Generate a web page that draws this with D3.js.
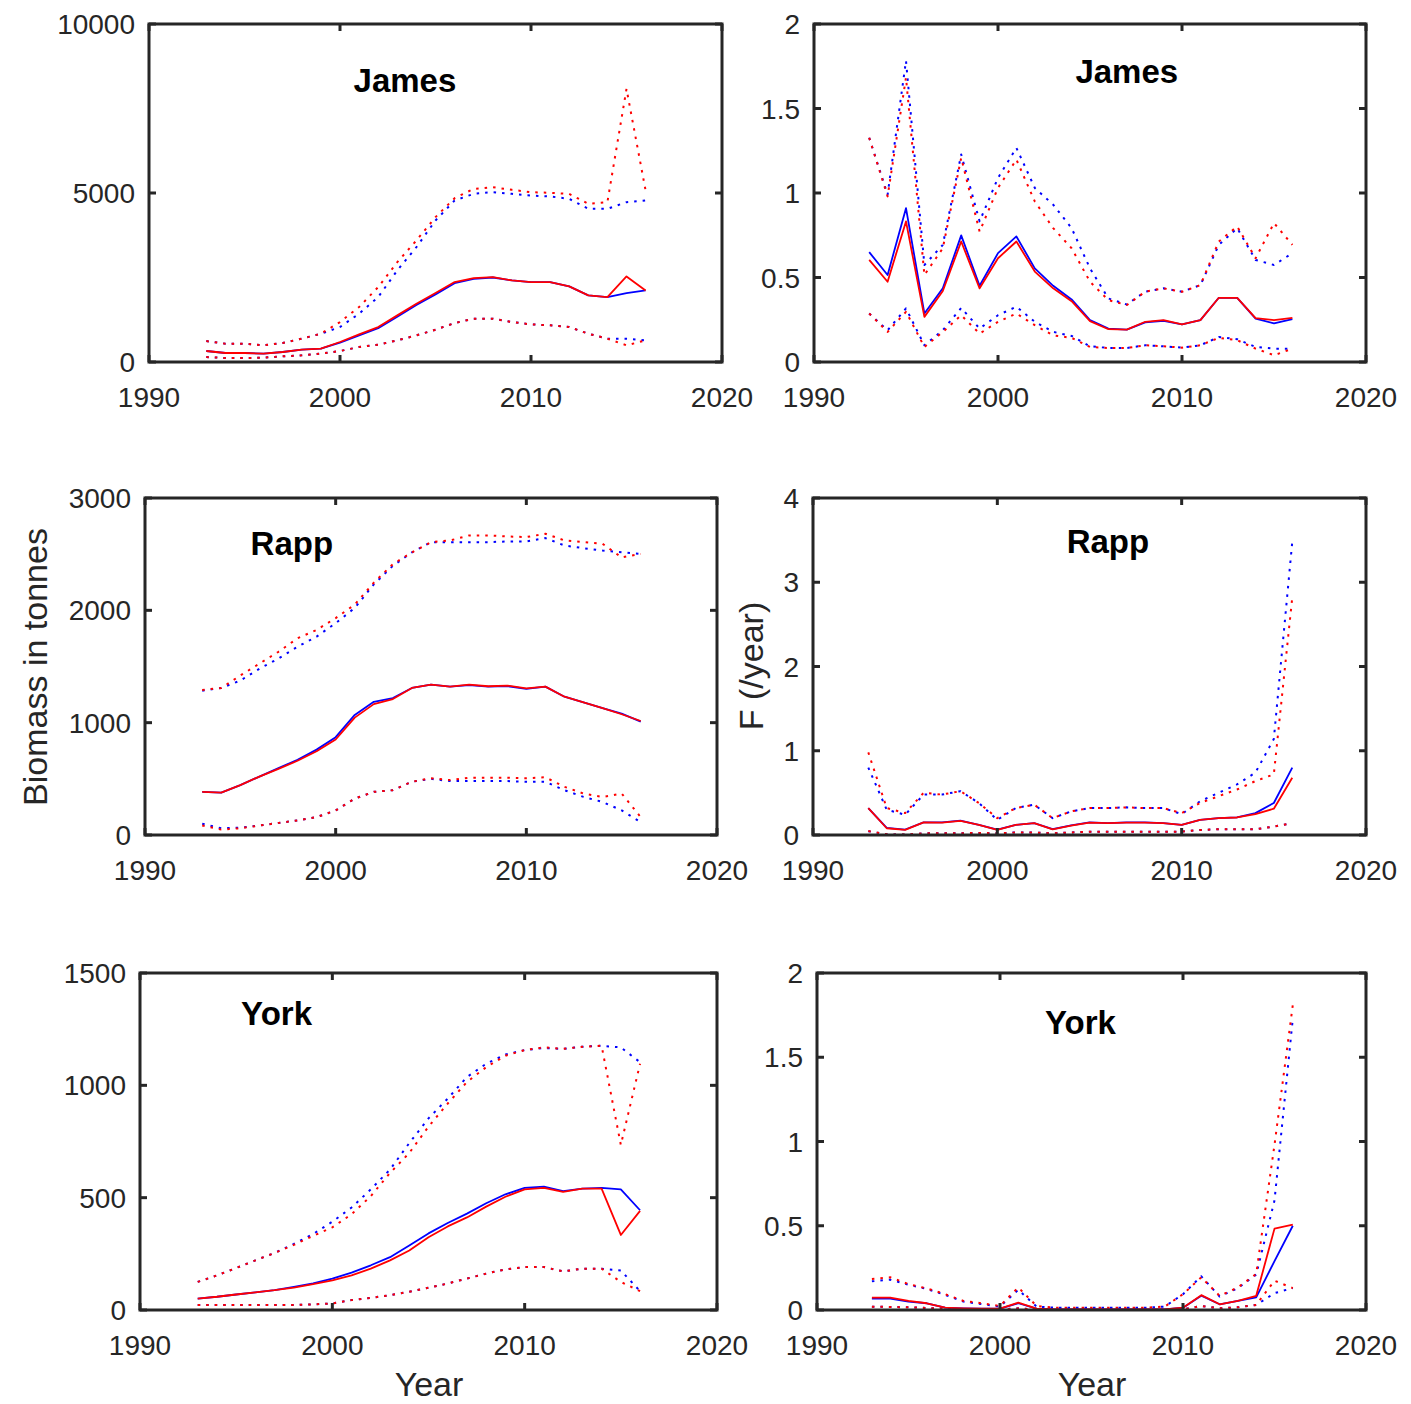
<!DOCTYPE html>
<html>
<head>
<meta charset="utf-8">
<script src="https://cdn.jsdelivr.net/npm/d3@7"></script>
<style>
  body { margin: 0; background: #fff; }
  svg { display: block; font-family: "Liberation Sans", Arial, sans-serif; }
</style>
</head>
<body>
<div id="chart"></div>
<script>
// years shared by every panel
const years = [1993, 1994, 1995, 1996, 1997, 1998, 1999, 2000, 2001, 2002, 2003, 2004,
  2005, 2006, 2007, 2008, 2009, 2010, 2011, 2012, 2013, 2014, 2015, 2016];

// James biomass (tonnes)
const jamesB_blue = [325, 266, 266, 246, 296, 365, 394, 570, 790, 1000, 1340, 1690, 2000, 2330, 2460, 2500, 2414, 2365, 2365, 2236, 1970, 1921, 2039, 2118];
const jamesB_red = [325, 266, 266, 246, 296, 365, 394, 591, 818, 1034, 1379, 1724, 2039, 2365, 2483, 2512, 2414, 2365, 2365, 2236, 1970, 1921, 2532, 2118];
const jamesB_blueHi = [620, 542, 542, 493, 562, 690, 837, 1034, 1429, 1921, 2709, 3399, 4187, 4778, 4975, 5025, 4975, 4926, 4897, 4828, 4532, 4532, 4729, 4778];
const jamesB_redHi = [620, 542, 542, 493, 562, 690, 837, 1182, 1626, 2217, 2956, 3596, 4286, 4847, 5123, 5172, 5094, 5025, 5005, 4975, 4680, 4729, 8079, 5074];
const jamesB_blueLo = [148, 118, 118, 128, 167, 197, 246, 325, 443, 512, 640, 788, 956, 1153, 1281, 1281, 1182, 1113, 1084, 1034, 837, 690, 690, 640];
const jamesB_redLo = [148, 118, 118, 128, 167, 197, 246, 325, 443, 512, 640, 788, 956, 1153, 1281, 1281, 1182, 1113, 1084, 1034, 837, 690, 493, 640];

// James F (/year)
const jamesF_blue = [0.65, 0.515, 0.91, 0.287, 0.436, 0.749, 0.451, 0.644, 0.743, 0.554, 0.451, 0.37, 0.248, 0.198, 0.192, 0.234, 0.244, 0.222, 0.248, 0.38, 0.38, 0.257, 0.228, 0.253];
const jamesF_red = [0.604, 0.475, 0.832, 0.267, 0.42, 0.713, 0.436, 0.614, 0.713, 0.535, 0.436, 0.36, 0.242, 0.194, 0.192, 0.238, 0.248, 0.222, 0.248, 0.38, 0.38, 0.26, 0.248, 0.261];
const jamesF_blueHi = [1.327, 0.99, 1.782, 0.574, 0.693, 1.228, 0.832, 1.089, 1.267, 1.03, 0.931, 0.792, 0.554, 0.376, 0.34, 0.416, 0.436, 0.416, 0.455, 0.693, 0.792, 0.604, 0.574, 0.644];
const jamesF_redHi = [1.327, 0.98, 1.683, 0.515, 0.673, 1.208, 0.772, 1.03, 1.198, 0.95, 0.792, 0.673, 0.475, 0.366, 0.337, 0.416, 0.436, 0.416, 0.455, 0.713, 0.802, 0.614, 0.822, 0.693];
const jamesF_blueLo = [0.287, 0.188, 0.317, 0.099, 0.188, 0.32, 0.198, 0.277, 0.327, 0.238, 0.178, 0.154, 0.093, 0.083, 0.083, 0.099, 0.093, 0.085, 0.099, 0.148, 0.135, 0.089, 0.079, 0.079];
const jamesF_redLo = [0.287, 0.178, 0.297, 0.089, 0.178, 0.277, 0.168, 0.238, 0.287, 0.218, 0.158, 0.143, 0.089, 0.083, 0.083, 0.099, 0.093, 0.085, 0.099, 0.143, 0.129, 0.079, 0.04, 0.079];

// Rapp biomass
const rappB_blue = [384, 378, 444, 520, 595, 670, 760, 871, 1069, 1186, 1219, 1309, 1339, 1321, 1335, 1320, 1325, 1300, 1321, 1231, 1180, 1129, 1080, 1010];
const rappB_red = [384, 378, 444, 520, 589, 661, 745, 850, 1045, 1165, 1210, 1309, 1339, 1321, 1339, 1324, 1330, 1306, 1321, 1231, 1180, 1129, 1075, 1015];
const rappB_blueHi = [1285, 1309, 1375, 1480, 1571, 1676, 1766, 1886, 2021, 2231, 2396, 2516, 2607, 2607, 2607, 2607, 2613, 2613, 2643, 2577, 2553, 2532, 2517, 2502];
const rappB_redHi = [1291, 1309, 1420, 1525, 1631, 1751, 1826, 1931, 2051, 2246, 2411, 2516, 2607, 2622, 2667, 2667, 2658, 2652, 2682, 2622, 2607, 2592, 2471, 2502];
const rappB_blueLo = [100, 60, 65, 84, 108, 129, 159, 219, 324, 384, 399, 474, 500, 480, 480, 480, 480, 474, 474, 399, 339, 294, 219, 114];
const rappB_redLo = [84, 48, 60, 84, 108, 129, 159, 219, 324, 384, 399, 474, 505, 489, 510, 510, 510, 505, 514, 429, 369, 339, 369, 159];

// Rapp F
const rappF_blue = [0.32, 0.085, 0.065, 0.15, 0.15, 0.17, 0.12, 0.065, 0.12, 0.14, 0.07, 0.115, 0.15, 0.14, 0.15, 0.15, 0.14, 0.12, 0.18, 0.2, 0.21, 0.26, 0.38, 0.8];
const rappF_red = [0.32, 0.08, 0.06, 0.15, 0.148, 0.168, 0.12, 0.06, 0.12, 0.14, 0.068, 0.112, 0.148, 0.14, 0.148, 0.148, 0.14, 0.12, 0.18, 0.2, 0.208, 0.248, 0.312, 0.68];
const rappF_blueHi = [0.8, 0.3, 0.24, 0.48, 0.48, 0.52, 0.38, 0.18, 0.32, 0.36, 0.2, 0.28, 0.32, 0.32, 0.328, 0.32, 0.32, 0.248, 0.4, 0.5, 0.6, 0.74, 1.14, 3.48];
const rappF_redHi = [0.98, 0.32, 0.26, 0.5, 0.48, 0.52, 0.38, 0.2, 0.32, 0.36, 0.2, 0.28, 0.32, 0.32, 0.328, 0.32, 0.32, 0.26, 0.38, 0.46, 0.54, 0.64, 0.72, 2.82];
const rappF_blueLo = [0.045, 0.008, 0.005, 0.02, 0.02, 0.02, 0.025, 0.02, 0.03, 0.03, 0.02, 0.03, 0.04, 0.04, 0.04, 0.04, 0.04, 0.04, 0.06, 0.068, 0.068, 0.068, 0.1, 0.14];
const rappF_redLo = [0.048, 0.008, 0.005, 0.02, 0.02, 0.02, 0.025, 0.02, 0.03, 0.03, 0.02, 0.03, 0.04, 0.04, 0.04, 0.04, 0.04, 0.04, 0.06, 0.068, 0.068, 0.068, 0.1, 0.14];

// York biomass
const yorkB_blue = [51, 59, 69, 78, 88, 103, 118, 140, 166, 199, 235, 287, 341, 387, 429, 475, 515, 544, 549, 529, 540, 544, 537, 444];
const yorkB_red = [51, 59, 69, 78, 88, 100, 115, 132, 154, 184, 221, 265, 324, 372, 412, 460, 504, 537, 544, 526, 540, 540, 334, 441];
const yorkB_blueHi = [125, 154, 187, 221, 254, 294, 338, 393, 456, 537, 625, 743, 853, 941, 1037, 1096, 1137, 1157, 1166, 1162, 1172, 1176, 1169, 1103];
const yorkB_redHi = [125, 154, 187, 221, 254, 290, 330, 368, 426, 507, 610, 699, 816, 919, 1015, 1081, 1132, 1157, 1169, 1162, 1172, 1176, 735, 1096];
const yorkB_blueLo = [22, 22, 22, 22, 22, 22, 25, 29, 44, 54, 66, 81, 99, 118, 140, 162, 181, 191, 191, 172, 184, 184, 176, 84];
const yorkB_redLo = [22, 22, 22, 22, 22, 22, 25, 29, 44, 54, 66, 81, 99, 118, 140, 162, 181, 191, 191, 172, 184, 184, 125, 84];

// York F
const yorkF_blue = [0.068, 0.068, 0.05, 0.04, 0.014, 0.01, 0.008, 0.008, 0.04, 0.008, 0.004, 0.004, 0.004, 0.004, 0.004, 0.004, 0.004, 0.014, 0.085, 0.034, 0.054, 0.075, 0.29, 0.5];
const yorkF_red = [0.074, 0.074, 0.054, 0.04, 0.014, 0.01, 0.008, 0.008, 0.044, 0.008, 0.004, 0.004, 0.004, 0.004, 0.004, 0.004, 0.004, 0.014, 0.088, 0.034, 0.054, 0.084, 0.483, 0.507];
const yorkF_blueHi = [0.17, 0.18, 0.15, 0.125, 0.09, 0.05, 0.035, 0.02, 0.12, 0.02, 0.014, 0.014, 0.014, 0.014, 0.014, 0.014, 0.02, 0.094, 0.2, 0.08, 0.13, 0.21, 0.65, 1.73];
const yorkF_redHi = [0.184, 0.194, 0.154, 0.128, 0.094, 0.054, 0.04, 0.024, 0.134, 0.024, 0.014, 0.014, 0.014, 0.014, 0.014, 0.014, 0.02, 0.094, 0.194, 0.084, 0.134, 0.214, 0.98, 1.81];
const yorkF_blueLo = [0.02, 0.018, 0.016, 0.012, 0.008, 0.005, 0.004, 0.004, 0.01, 0.003, 0.002, 0.002, 0.002, 0.002, 0.002, 0.002, 0.002, 0.004, 0.024, 0.01, 0.016, 0.03, 0.1, 0.13];
const yorkF_redLo = [0.02, 0.018, 0.016, 0.012, 0.008, 0.005, 0.004, 0.004, 0.01, 0.003, 0.002, 0.002, 0.002, 0.002, 0.002, 0.002, 0.002, 0.004, 0.024, 0.01, 0.016, 0.03, 0.174, 0.13];

const xTicks = [1990, 2000, 2010, 2020];

// panel layout (pixel boxes) + axis setup
const panels = [
  { title: "James", box: [149, 722, 24, 362], yMax: 10000, yTicks: [0, 5000, 10000], titleAt: [2003.4, 8000],
    blue: jamesB_blue, red: jamesB_red, blueHi: jamesB_blueHi, redHi: jamesB_redHi, blueLo: jamesB_blueLo, redLo: jamesB_redLo },
  { title: "James", box: [814, 1366, 24, 362], yMax: 2, yTicks: [0, 0.5, 1, 1.5, 2], titleAt: [2007, 1.65],
    blue: jamesF_blue, red: jamesF_red, blueHi: jamesF_blueHi, redHi: jamesF_redHi, blueLo: jamesF_blueLo, redLo: jamesF_redLo },
  { title: "Rapp", box: [145, 717, 498, 835], yMax: 3000, yTicks: [0, 1000, 2000, 3000], titleAt: [1997.7, 2495],
    blue: rappB_blue, red: rappB_red, blueHi: rappB_blueHi, redHi: rappB_redHi, blueLo: rappB_blueLo, redLo: rappB_redLo },
  { title: "Rapp", box: [813, 1366, 498, 835], yMax: 4, yTicks: [0, 1, 2, 3, 4], titleAt: [2006, 3.35],
    blue: rappF_blue, red: rappF_red, blueHi: rappF_blueHi, redHi: rappF_redHi, blueLo: rappF_blueLo, redLo: rappF_redLo },
  { title: "York", box: [140, 717, 973, 1310], yMax: 1500, yTicks: [0, 500, 1000, 1500], titleAt: [1997.1, 1268],
    blue: yorkB_blue, red: yorkB_red, blueHi: yorkB_blueHi, redHi: yorkB_redHi, blueLo: yorkB_blueLo, redLo: yorkB_redLo },
  { title: "York", box: [817, 1366, 973, 1310], yMax: 2, yTicks: [0, 0.5, 1, 1.5, 2], titleAt: [2004.4, 1.64],
    blue: yorkF_blue, red: yorkF_red, blueHi: yorkF_blueHi, redHi: yorkF_redHi, blueLo: yorkF_blueLo, redLo: yorkF_redLo }
];

const axisColor = "#262626";
const W = 1411, H = 1404;

const svg = d3.select("#chart").append("svg")
  .attr("width", W).attr("height", H);
svg.append("rect").attr("width", W).attr("height", H).attr("fill", "#fff");

panels.forEach((p, i) => {
  const [x0, x1, y0, y1] = p.box;
  const x = d3.scaleLinear().domain([1990, 2020]).range([x0, x1]);
  const y = d3.scaleLinear().domain([0, p.yMax]).range([y1, y0]);

  const clipId = "clip" + i;
  svg.append("clipPath").attr("id", clipId)
    .append("rect").attr("x", x0).attr("y", y0).attr("width", x1 - x0).attr("height", y1 - y0);

  const g = svg.append("g");
  const lines = g.append("g").attr("clip-path", `url(#${clipId})`);
  const line = d3.line().x((d, j) => x(years[j])).y(d => y(d));

  // dotted bounds first, then the solid estimates (blue under red)
  const series = [
    { v: p.blueHi, c: "#0000ff", dot: true },
    { v: p.redHi, c: "#ff0000", dot: true },
    { v: p.blueLo, c: "#0000ff", dot: true },
    { v: p.redLo, c: "#ff0000", dot: true },
    { v: p.blue, c: "#0000ff", dot: false },
    { v: p.red, c: "#ff0000", dot: false }
  ];
  series.forEach(s => {
    lines.append("path")
      .datum(s.v)
      .attr("d", line)
      .attr("fill", "none")
      .attr("stroke", s.c)
      .attr("stroke-width", s.dot ? 2 : 1.8)
      .attr("stroke-dasharray", s.dot ? "2.5,6" : null)
      .attr("stroke-linejoin", "round");
  });

  // ticks inside on all four sides
  const tl = 7;
  xTicks.forEach(t => {
    g.append("line").attr("x1", x(t)).attr("x2", x(t)).attr("y1", y1).attr("y2", y1 - tl)
      .attr("stroke", axisColor).attr("stroke-width", 3);
    g.append("line").attr("x1", x(t)).attr("x2", x(t)).attr("y1", y0).attr("y2", y0 + tl)
      .attr("stroke", axisColor).attr("stroke-width", 3);
    g.append("text").attr("x", x(t)).attr("y", y1 + 45)
      .attr("text-anchor", "middle").attr("font-size", 28).attr("fill", axisColor)
      .text(t);
  });
  p.yTicks.forEach(t => {
    g.append("line").attr("x1", x0).attr("x2", x0 + tl).attr("y1", y(t)).attr("y2", y(t))
      .attr("stroke", axisColor).attr("stroke-width", 3);
    g.append("line").attr("x1", x1).attr("x2", x1 - tl).attr("y1", y(t)).attr("y2", y(t))
      .attr("stroke", axisColor).attr("stroke-width", 3);
    g.append("text").attr("x", x0 - 14).attr("y", y(t) + 10)
      .attr("text-anchor", "end").attr("font-size", 28).attr("fill", axisColor)
      .text(String(t));
  });

  // box
  g.append("rect").attr("x", x0).attr("y", y0).attr("width", x1 - x0).attr("height", y1 - y0)
    .attr("fill", "none").attr("stroke", axisColor).attr("stroke-width", 3);

  // river name
  g.append("text")
    .attr("x", x(p.titleAt[0])).attr("y", y(p.titleAt[1]))
    .attr("text-anchor", "middle").attr("font-size", 33).attr("font-weight", "bold")
    .attr("fill", "#000")
    .text(p.title);
});

// axis labels
svg.append("text")
  .attr("transform", "translate(47,667) rotate(-90)")
  .attr("text-anchor", "middle").attr("font-size", 34).attr("fill", axisColor)
  .text("Biomass in tonnes");
svg.append("text")
  .attr("transform", "translate(763,666) rotate(-90)")
  .attr("text-anchor", "middle").attr("font-size", 34).attr("fill", axisColor)
  .text("F (/year)");
svg.append("text")
  .attr("x", 429).attr("y", 1396)
  .attr("text-anchor", "middle").attr("font-size", 34).attr("fill", axisColor)
  .text("Year");
svg.append("text")
  .attr("x", 1092).attr("y", 1396)
  .attr("text-anchor", "middle").attr("font-size", 34).attr("fill", axisColor)
  .text("Year");
</script>
</body>
</html>
